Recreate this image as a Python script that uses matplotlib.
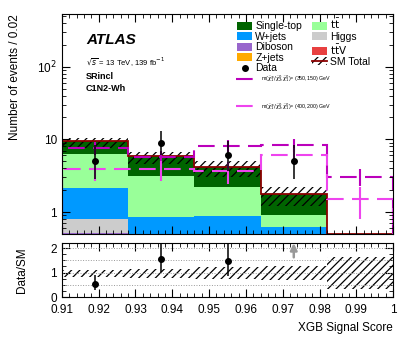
import numpy as np
import matplotlib
matplotlib.use('Agg')
import matplotlib.pyplot as plt
from matplotlib.patches import Patch
from matplotlib.lines import Line2D
from matplotlib.ticker import MultipleLocator, LogLocator, NullFormatter

plt.rcParams['font.family'] = ['Liberation Sans', 'DejaVu Sans']
plt.rcParams['hatch.linewidth'] = 0.9

# binning
edges = np.array([0.91, 0.928, 0.946, 0.964, 0.982, 1.0])
centers = 0.5 * (edges[1:] + edges[:-1])

# backgrounds (stacked bottom -> top)
zjets = [0.0, 0.0, 0.0, 0.0, 0.0]
ttv = [0.0, 0.0, 0.0, 0.0, 0.0]
diboson = [0.52, 0.02, 0.01, 0.0, 0.0]
higgs = [0.27, 0.03, 0.02, 0.01, 0.0]
wjets = [1.32, 0.80, 0.85, 0.61, 0.0]
ttbar = [4.09, 2.33, 1.32, 0.28, 0.0]
singletop = [3.20, 2.67, 1.93, 0.85, 0.0]

# SM uncertainty band (relative to SM total)
band_lo = [0.80, 0.78, 0.74, 0.70, 0.32]
band_hi = [1.12, 1.16, 1.22, 1.27, 1.62]

# data
data_x = [0.919, 0.937, 0.955, 0.973]
data = [5, 9, 6, 5]
data_dn = [2.16, 2.94, 2.38, 2.16]
data_up = [3.38, 4.11, 3.58, 3.38]

# signals
sig1 = [7.6, 5.7, 8.2, 8.4, 3.05]
sig1_err = [1.5, 1.3, 1.6, 1.6, 0.8]
sig2 = [3.9, 3.9, 3.65, 6.1, 1.5]
sig2_err = [1.2, 1.2, 1.2, 1.5, 0.7]

xticks = [0.91, 0.92, 0.93, 0.94, 0.95, 0.96, 0.97, 0.98, 0.99, 1.0]
xticklabels = ['0.91', '0.92', '0.93', '0.94', '0.95', '0.96', '0.97', '0.98', '0.99', '1']

bkgs = [
    ('Z+jets', zjets, '#ffaa00'),
    ('ttV', ttv, '#e84040'),
    ('Diboson', diboson, '#9966cc'),
    ('Higgs', higgs, '#cccccc'),
    ('W+jets', wjets, '#0099ff'),
    ('ttbar', ttbar, '#99ff99'),
    ('Single-top', singletop, '#006400'),
]
col = {name: c for name, v, c in bkgs}
darkred = '#8b0000'
c_sig1 = '#bb00bb'
c_sig2 = '#ee44ee'
dash = (0, (8, 4))

ymin, ymax = 0.5, 530
rmin, rmax = 0.0, 2.2

fig = plt.figure(figsize=(4.07, 3.41), dpi=100)
ax = fig.add_axes([0.152, 0.314, 0.814, 0.645])
rax = fig.add_axes([0.152, 0.129, 0.814, 0.158])

ax.set_yscale('log')
widths = np.diff(edges)
bottom = np.zeros(5)
for name, vals, c in bkgs:
    vals = np.array(vals)
    ax.bar(edges[:-1], vals, width=widths, bottom=bottom, align='edge',
           color=c, linewidth=0)
    bottom = bottom + vals
total = bottom

# SM uncertainty band
lo = total * np.array(band_lo)
hi = total * np.array(band_hi)
ax.bar(edges[:-1], hi - lo, width=widths, bottom=lo, align='edge',
       fill=False, hatch='////', edgecolor='black', linewidth=0)
ax.stairs(np.clip(total, ymin * 1.01, None), edges, color=darkred, lw=1.3)

# signals
ax.stairs(sig1, edges, color=c_sig1, lw=1.5, ls=dash)
ax.errorbar(centers, sig1, yerr=sig1_err, fmt='none', ecolor=c_sig1, elinewidth=1.5)
ax.stairs(sig2, edges, color=c_sig2, lw=1.5, ls=dash)
ax.errorbar(centers, sig2, yerr=sig2_err, fmt='none', ecolor=c_sig2, elinewidth=1.5)

# data
ax.errorbar(data_x, data, yerr=[data_dn, data_up], fmt='o', color='black',
            markersize=4, elinewidth=1.1, capsize=0)

ax.set_xlim(0.91, 1.0)
ax.set_ylim(ymin, ymax)
ax.set_xticks(xticks)
ax.xaxis.set_minor_locator(MultipleLocator(0.002))
ax.set_xticklabels([])
ax.yaxis.set_major_locator(LogLocator(base=10, numticks=10))
ax.yaxis.set_minor_locator(LogLocator(base=10, subs=np.arange(2, 10), numticks=20))
ax.yaxis.set_minor_formatter(NullFormatter())
ax.yaxis.set_major_formatter(matplotlib.ticker.FuncFormatter(
    lambda v, p: {1: '1', 10: '10', 100: r'10$^2$'}.get(int(round(v)), '')))
for a in (ax, rax):
    a.tick_params(which='both', direction='in', top=True, right=True, labelsize=8.5)
    a.tick_params(which='major', length=6)
    a.tick_params(which='minor', length=3)
rax.tick_params(axis='x', pad=5)
ax.set_ylabel('Number of events / 0.02', loc='top', fontsize=8.5, labelpad=12)

# texts
ax.text(0.073, 0.865, 'ATLAS', transform=ax.transAxes, fontsize=11,
        fontweight='bold', style='italic')
ax.text(0.073, 0.765, r'$\sqrt{s}$ = 13 TeV, 139 fb$^{-1}$', transform=ax.transAxes, fontsize=5.5)
ax.text(0.073, 0.705, 'SRincl', transform=ax.transAxes, fontsize=6.5, fontweight='bold')
ax.text(0.073, 0.648, 'C1N2-Wh', transform=ax.transAxes, fontsize=6.5, fontweight='bold')

# legend
h = [
    Patch(facecolor=col['Single-top']), Patch(facecolor=col['W+jets']),
    Patch(facecolor=col['Diboson']), Patch(facecolor=col['Z+jets']),
    Line2D([], [], marker='o', color='black', ls='none', markersize=4),
    Patch(facecolor=col['ttbar']), Patch(facecolor=col['Higgs']),
    Patch(facecolor=col['ttV']),
    (Patch(fill=False, hatch='////', edgecolor='black', linewidth=0),
     Line2D([], [], color=darkred, lw=1.3)),
]
lab = ['Single-top', 'W+jets', 'Diboson', 'Z+jets', 'Data',
       r'$\mathrm{t\bar{t}}$', 'Higgs', r'$\mathrm{t\bar{t}V}$', 'SM Total']
leg = ax.legend(h, lab, ncol=2, loc='upper left', bbox_to_anchor=(0.53, 0.985),
                frameon=False, fontsize=7.5, handlelength=1.4, handleheight=0.8,
                labelspacing=0.05, columnspacing=1.0, handletextpad=0.3,
                borderaxespad=0, borderpad=0)
ax.add_artist(leg)

sh = [Line2D([], [], color=c_sig1, lw=1.5, ls=(0, (8, 4))),
      Line2D([], [], color=c_sig2, lw=1.5, ls=(0, (8, 4)))]
sl = [r'm($\tilde{\chi}^{\pm}_{1}/\tilde{\chi}^{0}_{2}$,$\tilde{\chi}^{0}_{1}$)= (350,150) GeV',
      r'm($\tilde{\chi}^{\pm}_{1}/\tilde{\chi}^{0}_{2}$,$\tilde{\chi}^{0}_{1}$)= (400,200) GeV']
ax.legend(sh, sl, loc='upper left', bbox_to_anchor=(0.525, 0.73), frameon=False,
          fontsize=3.8, handlelength=4, labelspacing=3.2, handletextpad=0.8,
          borderaxespad=0, borderpad=0)

# ratio panel
for yv in [0.5, 1.0, 1.5, 2.0]:
    rax.axhline(yv, color='#999999', ls=':', lw=0.7)
rax.bar(edges[:-1], np.array(band_hi) - np.array(band_lo), width=widths,
        bottom=band_lo, align='edge', fill=False, hatch='////',
        edgecolor='black', linewidth=0)
tot_d = total[:len(data)]
ratio = np.array(data) / tot_d
r_dn = np.array(data_dn) / tot_d
r_up = np.array(data_up) / tot_d
inr = ratio <= rmax
rax.errorbar(np.array(data_x)[inr], ratio[inr], yerr=[r_dn[inr], r_up[inr]],
             fmt='o', color='black', markersize=4, elinewidth=1.1, capsize=0)
for xv in np.array(data_x)[~inr]:
    rax.annotate('', xy=(xv, 2.2), xytext=(xv, 1.62),
                 arrowprops=dict(arrowstyle='-|>', color='#999999', lw=1.8,
                                 mutation_scale=10, shrinkA=0, shrinkB=0))
rax.set_xlim(0.91, 1.0)
rax.set_ylim(rmin, rmax)
rax.set_xticks(xticks)
rax.set_xticklabels(xticklabels)
rax.xaxis.set_minor_locator(MultipleLocator(0.002))
rax.set_yticks([0, 1, 2])
rax.yaxis.set_minor_locator(MultipleLocator(0.25))
rax.set_ylabel('Data/SM', fontsize=8.5, labelpad=16)
rax.set_xlabel('XGB Signal Score', loc='right', fontsize=8.5)

fig.savefig('out.png', dpi=100)
